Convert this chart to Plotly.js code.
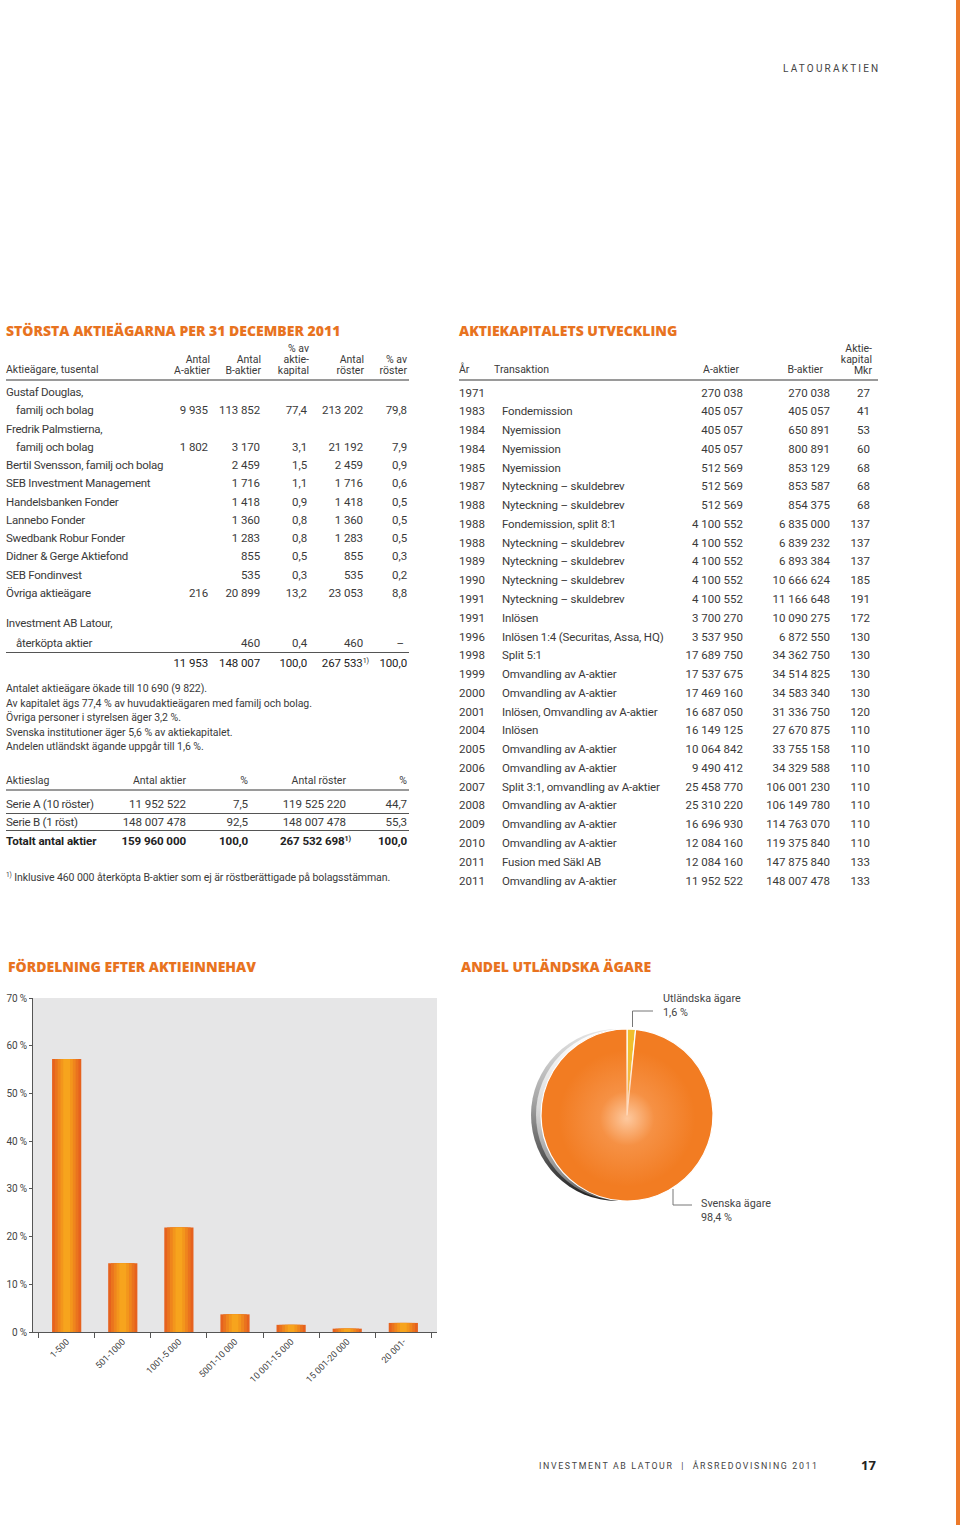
<!DOCTYPE html>
<html><head><meta charset="utf-8">
<script src="https://cdn.plot.ly/plotly-3.0.1.min.js"></script>
<style>
body{margin:0;background:#fff}
#page{position:relative;width:960px;height:1525px;overflow:hidden;background:#fff;font-family:Roboto,'Liberation Sans',Arial,sans-serif;color:#3a3a3a}
.t{position:absolute;white-space:nowrap}
.sup{font-size:0.62em;vertical-align:0.55em;line-height:0}
#rimOuter{position:absolute;left:531px;top:1029px;width:172px;height:172px;border-radius:50%;background:linear-gradient(180deg,#e6e6e6 0%,#a8a8a8 40%,#4a4a4a 80%,#1e1e1e 100%)}
#rimInner{position:absolute;left:536px;top:1029px;width:172px;height:172px;border-radius:50%;background:linear-gradient(180deg,#ffffff 0%,#dcdcdc 45%,#8c8c8c 85%,#555 100%)}
#glow{position:absolute;left:541px;top:1029px;width:172px;height:172px;border-radius:50%;pointer-events:none;background:radial-gradient(circle at 50% 52%,rgba(255,214,180,0.85) 0%,rgba(250,170,110,0.45) 22%,rgba(242,124,34,0) 55%)}
#edge{position:absolute;left:956px;top:0;width:4px;height:1525px;background:#ec7a2a}
</style></head><body>
<div id="page">
 <div id="rimOuter"></div><div id="rimInner"></div>
 <div id="chart" style="position:absolute;left:0;top:0;width:960px;height:1525px"></div>
 <div id="glow"></div>
 <div id="txt" style="position:absolute;left:0;top:0;width:960px;height:1525px;pointer-events:none"></div>
 <div id="edge"></div>
</div>
<script>
// ---------------- DATA ----------------
const ownerNames = ['Gustaf Douglas,', 'familj och bolag', 'Fredrik Palmstierna,', 'familj och bolag',
  'Bertil Svensson, familj och bolag', 'SEB Investment Management', 'Handelsbanken Fonder',
  'Lannebo Fonder', 'Swedbank Robur Fonder', 'Didner & Gerge Aktiefond', 'SEB Fondinvest', 'Övriga aktieägare'];
const ownerA      = ['', '9 935', '', '1 802', '', '', '', '', '', '', '', '216'];
const ownerB      = ['', '113 852', '', '3 170', '2 459', '1 716', '1 418', '1 360', '1 283', '855', '535', '20 899'];
const ownerKap    = ['', '77,4', '', '3,1', '1,5', '1,1', '0,9', '0,8', '0,8', '0,5', '0,3', '13,2'];
const ownerRoster = ['', '213 202', '', '21 192', '2 459', '1 716', '1 418', '1 360', '1 283', '855', '535', '23 053'];
const ownerPctR   = ['', '79,8', '', '7,9', '0,9', '0,6', '0,5', '0,5', '0,5', '0,3', '0,2', '8,8'];
const ownerHead   = ['Antal<br>A-aktier', 'Antal<br>B-aktier', '% av<br>aktie-<br>kapital', 'Antal<br>röster', '% av<br>röster'];
const latourNames = ['Investment AB Latour,', 'återköpta aktier'];
const latourVals  = ['', '460', '0,4', '460', '–'];
const ownerTotal  = ['11 953', '148 007', '100,0', '267 533', '100,0'];
const notes = ['Antalet aktieägare ökade till 10 690 (9 822).',
  'Av kapitalet ägs 77,4 % av huvudaktieägaren med familj och bolag.',
  'Övriga personer i styrelsen äger 3,2 %.',
  'Svenska institutioner äger 5,6 % av aktiekapitalet.',
  'Andelen utländskt ägande uppgår till 1,6 %.'];
const slagHead   = ['Aktieslag', 'Antal aktier', '%', 'Antal röster', '%'];
const slagNames  = ['Serie A (10 röster)', 'Serie B (1 röst)', 'Totalt antal aktier'];
const slagAktier = ['11 952 522', '148 007 478', '159 960 000'];
const slagPctA   = ['7,5', '92,5', '100,0'];
const slagRoster = ['119 525 220', '148 007 478', '267 532 698'];
const slagPctR   = ['44,7', '55,3', '100,0'];
const footnote = 'Inklusive 460 000 återköpta B-aktier som ej är röstberättigade på bolagsstämman.';

const capYears = ['1971','1983','1984','1984','1985','1987','1988','1988','1988','1989','1990','1991','1991','1996','1998','1999','2000','2001','2004','2005','2006','2007','2008','2009','2010','2011','2011'];
const capTrans = ['', 'Fondemission', 'Nyemission', 'Nyemission', 'Nyemission', 'Nyteckning – skuldebrev', 'Nyteckning – skuldebrev',
  'Fondemission, split 8:1', 'Nyteckning – skuldebrev', 'Nyteckning – skuldebrev', 'Nyteckning – skuldebrev', 'Nyteckning – skuldebrev',
  'Inlösen', 'Inlösen 1:4 (Securitas, Assa, HQ)', 'Split 5:1', 'Omvandling av A-aktier', 'Omvandling av A-aktier',
  'Inlösen, Omvandling av A-aktier', 'Inlösen', 'Omvandling av A-aktier', 'Omvandling av A-aktier', 'Split 3:1, omvandling av A-aktier',
  'Omvandling av A-aktier', 'Omvandling av A-aktier', 'Omvandling av A-aktier', 'Fusion med Säkl AB', 'Omvandling av A-aktier'];
const capA = ['270 038','405 057','405 057','405 057','512 569','512 569','512 569','4 100 552','4 100 552','4 100 552','4 100 552','4 100 552','3 700 270','3 537 950','17 689 750','17 537 675','17 469 160','16 687 050','16 149 125','10 064 842','9 490 412','25 458 770','25 310 220','16 696 930','12 084 160','12 084 160','11 952 522'];
const capB = ['270 038','405 057','650 891','800 891','853 129','853 587','854 375','6 835 000','6 839 232','6 893 384','10 666 624','11 166 648','10 090 275','6 872 550','34 362 750','34 514 825','34 583 340','31 336 750','27 670 875','33 755 158','34 329 588','106 001 230','106 149 780','114 763 070','119 375 840','147 875 840','148 007 478'];
const capMkr = ['27','41','53','60','68','68','68','137','137','137','185','191','172','130','130','130','130','120','110','110','110','110','110','110','110','133','133'];

const shareCats = ['1-500', '501-1000', '1001-5 000', '5001-10 000', '10 001-15 000', '15 001-20 000', '20 001-'];
const sharePct  = [57.2, 14.4, 21.9, 3.7, 1.5, 0.7, 1.9];

const ownerLabels = ['Utländska ägare', 'Svenska ägare'];
const ownerShare  = [1.6, 98.4];

// ---------------- STYLE ----------------
function hasFont(name) {
  const c = document.createElement('canvas').getContext('2d');
  const s = 'abcdefghijklmnopqrstuvwxyzÅÄÖ0123456789';
  c.font = '20px monospace'; const a = c.measureText(s).width;
  c.font = '20px "' + name + '", monospace'; const b = c.measureText(s).width;
  return Math.abs(a - b) > 0.5;
}
const NARROW = hasFont('Liberation Sans Narrow');
const FONT = "Roboto, 'Liberation Sans', Arial, sans-serif";
const CFONT = NARROW ? "'Liberation Sans Narrow', Roboto, sans-serif" : FONT;
const HFONT = "'Open Sans', 'Liberation Sans', Arial, sans-serif";
const ORANGE = '#e8731f';
const layer = document.getElementById('txt');

function put(html, x, y, o) {
  o = o || {};
  const d = document.createElement('div');
  d.className = 't';
  d.innerHTML = html;
  const fs = o.fs || 11.5, lh = o.lh || 14;
  d.style.fontSize = fs + 'px';
  d.style.lineHeight = lh + 'px';
  const lines = (html.match(/<br>/g) || []).length + 1;
  d.style.top = (y - lh * lines / 2) + 'px';
  if (o.align === 'right') { d.style.left = (x - 500) + 'px'; d.style.width = '500px'; d.style.textAlign = 'right'; }
  else d.style.left = x + 'px';
  if (o.color) d.style.color = o.color;
  if (o.weight) d.style.fontWeight = o.weight;
  if (o.ls !== undefined) d.style.letterSpacing = o.ls + 'px';
  if (o.family) d.style.fontFamily = o.family;
  layer.appendChild(d);
}
function hline(x0, x1, y, th, color) {
  const d = document.createElement('div');
  d.style.position = 'absolute';
  d.style.left = x0 + 'px'; d.style.width = (x1 - x0) + 'px';
  d.style.top = (y - th / 2) + 'px'; d.style.height = th + 'px';
  d.style.background = color;
  layer.appendChild(d);
}
const sup = '<span class="sup">1)</span>';
const heading = (s, x, y) => put(s, x, y, {fs: 14, color: ORANGE, weight: 800, family: HFONT});

// page header / footer
put('LATOURAKTIEN', 783, 69, {fs: 10, ls: 2.2, color: '#444'});
put('INVESTMENT AB LATOUR &nbsp;|&nbsp; ÅRSREDOVISNING 2011', 539, 1466, {fs: 8.8, ls: 1.65, color: '#444'});
put('17', 861, 1465, {fs: 13, weight: 700, color: '#222', family: HFONT});

// ---------- left table ----------
heading('STÖRSTA AKTIEÄGARNA PER 31 DECEMBER 2011', 6, 331);
const LS = -0.27;
const oCols = [208, 260, 307, 363, 407];
const oHeadR = [210, 261, 309, 364, 407];
put('Aktieägare, tusental', 6, 370, {fs: 10.5});
ownerHead.forEach((h, i) => {
  const n = (h.match(/<br>/g) || []).length + 1;
  put(h, oHeadR[i], 370 - (n - 1) * 11 / 2, {fs: 10.5, lh: 11, align: 'right'});
});
hline(6, 409, 379.5, 2, '#9a9a9a');
const oVals = [ownerA, ownerB, ownerKap, ownerRoster, ownerPctR];
ownerNames.forEach((nm, r) => {
  const y = 392 + r * 18.27;
  const prevEmpty = r > 0 && oVals.every(c => c[r - 1] === '');
  put(nm, prevEmpty ? 16 : 6, y, {ls: LS});
  oVals.forEach((col, c) => { if (col[r]) put(col[r], oCols[c], y, {align: 'right', ls: -0.1}); });
});
put(latourNames[0], 6, 623, {ls: LS});
put(latourNames[1], 16, 643, {ls: LS});
latourVals.forEach((v, c) => { if (v) put(v, oCols[c] - (c === 4 ? 3 : 0), 643, {align: 'right', ls: -0.1}); });
hline(6, 409, 652.5, 1, '#555');
ownerTotal.forEach((v, c) => put(c === 3 ? v + sup : v, c === 3 ? 369 : oCols[c], 663, {align: 'right', ls: -0.1, color: '#222'}));
notes.forEach((n, i) => put(n, 6, 689 + i * 14.5, {fs: 10.5, ls: -0.05}));

// Aktieslag table
const sCols = [186, 248, 346, 407];
put(slagHead[0], 6, 781, {fs: 10.5});
slagHead.slice(1).forEach((h, i) => put(h, sCols[i], 781, {fs: 10.5, align: 'right'}));
hline(6, 409, 789.5, 2, '#9a9a9a');
const sVals = [slagAktier, slagPctA, slagRoster, slagPctR];
slagNames.forEach((nm, r) => {
  const y = 803.5 + r * 18.5;
  const bold = r === slagNames.length - 1 ? 700 : null;
  put(nm, 6, y, {fs: 11.6, weight: bold, ls: bold ? -0.05 : -0.3, color: bold ? '#222' : null});
  sVals.forEach((col, c) => {
    const isSup = bold && c === 2;
    put(isSup ? col[r] + sup : col[r], isSup ? 351 : sCols[c], y, {fs: 11.6, weight: bold, align: 'right', ls: -0.1, color: bold ? '#222' : null});
  });
  if (r < slagNames.length - 1) hline(6, 409, 813 + r * 17.5, 1, '#555');
});
put(sup + ' ' + footnote, 6, 878, {fs: 10.5, ls: -0.08});

// ---------- right table ----------
heading('AKTIEKAPITALETS UTVECKLING', 459, 331);
put('År', 459, 370, {fs: 10.5});
put('Transaktion', 494, 370, {fs: 10.5});
put('A-aktier', 739, 370, {fs: 10.5, align: 'right'});
put('B-aktier', 823, 370, {fs: 10.5, align: 'right'});
put('Aktie-<br>kapital<br>Mkr', 872, 359, {fs: 10.5, lh: 11, align: 'right'});
hline(459, 878, 379.5, 2, '#9a9a9a');
capYears.forEach((yr, r) => {
  const y = 392.5 + r * 18.77;
  put(yr, 459, y);
  if (capTrans[r]) put(capTrans[r], 502, y, {ls: -0.15});
  put(capA[r], 743, y, {align: 'right'});
  put(capB[r], 830, y, {align: 'right'});
  put(capMkr[r], 870, y, {align: 'right'});
});

// ---------------- PLOTLY CHARTS ----------------
const W = 960, H = 1525;
const px = x => x / W, py = y => 1 - y / H;
const grad = [
  {w: 0.52, c: '#e6621e'}, {w: 0.42, c: '#ea731e'}, {w: 0.32, c: '#ef851d'},
  {w: 0.22, c: '#f3961c'}, {w: 0.12, c: '#f7a41d'}];
const traces = grad.map(g => ({
  type: 'bar', x: shareCats, y: sharePct, width: g.w,
  marker: {color: g.c, line: {width: 0}}, hoverinfo: 'skip', showlegend: false,
  xaxis: 'x', yaxis: 'y'
}));
traces.push({
  type: 'pie', labels: ownerLabels, values: ownerShare, sort: false, direction: 'clockwise', rotation: 0,
  marker: {colors: ['#f0bf2e', '#f27c22'], line: {color: '#ffffff', width: 1.2}},
  textinfo: 'none', hoverinfo: 'skip', showlegend: false,
  domain: {x: [px(541), px(713)], y: [py(1201), py(1029)]}
});
const fmt = v => v.toFixed(1).replace('.', ',') + ' %';
const labFont = {family: CFONT, size: NARROW ? 12.6 : 10.8, color: '#444'};
const layout = {
  width: W, height: H, margin: {l: 0, r: 0, t: 0, b: 0},
  paper_bgcolor: 'rgba(0,0,0,0)', plot_bgcolor: '#e6e6e7',
  barmode: 'overlay', showlegend: false,
  font: {family: FONT, color: '#444'},
  xaxis: {domain: [px(33), px(437)], type: 'category', range: [-0.6, 6.6], showline: true, linecolor: '#555', linewidth: 1,
    ticks: 'outside', tickson: 'boundaries', ticklen: 5, tickcolor: '#555', tickangle: -45,
    tickfont: {family: CFONT, size: NARROW ? 10 : 9, color: '#444'}, showgrid: false, zeroline: false, fixedrange: true},
  yaxis: {domain: [py(1332), py(998)], range: [0, 70], dtick: 10, ticksuffix: '\u2009%',
    showline: true, linecolor: '#555', linewidth: 1, ticks: 'outside', ticklen: 3, tickcolor: '#555',
    tickfont: {family: CFONT, size: NARROW ? 11 : 10, color: '#444'}, showgrid: false, zeroline: false, fixedrange: true},
  annotations: [
    {text: 'FÖRDELNING EFTER AKTIEINNEHAV', x: px(6), y: py(967), xref: 'paper', yref: 'paper',
      xanchor: 'left', yanchor: 'middle', showarrow: false,
      font: {family: HFONT, size: 14, color: ORANGE, weight: 800}},
    {text: 'ANDEL UTLÄNDSKA ÄGARE', x: px(459), y: py(967), xref: 'paper', yref: 'paper',
      xanchor: 'left', yanchor: 'middle', showarrow: false,
      font: {family: HFONT, size: 14, color: ORANGE, weight: 800}},
    {text: ownerLabels[0] + '<br>' + fmt(ownerShare[0]), x: px(661), y: py(1005), xref: 'paper', yref: 'paper',
      xanchor: 'left', yanchor: 'middle', align: 'left', showarrow: false, font: labFont},
    {text: ownerLabels[1] + '<br>' + fmt(ownerShare[1]), x: px(699), y: py(1210), xref: 'paper', yref: 'paper',
      xanchor: 'left', yanchor: 'middle', align: 'left', showarrow: false, font: labFont}
  ],
  shapes: [
    {type: 'line', xref: 'paper', yref: 'paper', x0: px(632.5), x1: px(632.5), y0: py(1027), y1: py(1011), line: {color: '#777', width: 1}},
    {type: 'line', xref: 'paper', yref: 'paper', x0: px(632.5), x1: px(653), y0: py(1011), y1: py(1011), line: {color: '#777', width: 1}},
    {type: 'line', xref: 'paper', yref: 'paper', x0: px(673), x1: px(673), y0: py(1189), y1: py(1205), line: {color: '#777', width: 1}},
    {type: 'line', xref: 'paper', yref: 'paper', x0: px(673), x1: px(692), y0: py(1205), y1: py(1205), line: {color: '#777', width: 1}}
  ]
};
Plotly.newPlot('chart', traces, layout, {staticPlot: true, displayModeBar: false});
</script>
</body></html>
